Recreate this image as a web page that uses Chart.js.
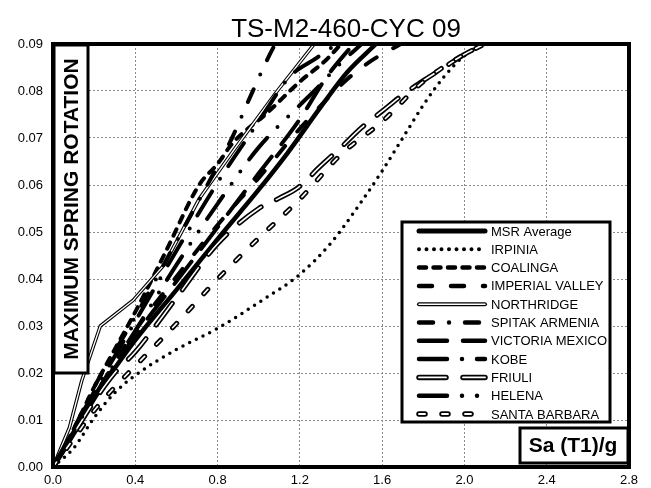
<!DOCTYPE html>
<html>
<head>
<meta charset="utf-8">
<script src="https://cdn.jsdelivr.net/npm/chart.js@4.4.0/dist/chart.umd.min.js"></script>
<style>
  body { margin: 0; background: #fff; }
  #wrap { width: 651px; height: 488px; position: relative; }
</style>
</head>
<body>
<div id="wrap"><canvas id="chart"></canvas></div>
<script>
// Sa(T1)/g and max spring rotation per record
const msrSa = [0, 0.1, 0.2, 0.3, 0.4, 0.6, 0.8, 1.0, 1.14, 1.3, 1.43, 1.57];
const msrRot = [0, 0.007, 0.0145, 0.021, 0.027, 0.0377, 0.0485, 0.059, 0.0668, 0.0765, 0.084, 0.09];

const irpiniaSa = [0, 0.1, 0.2, 0.3, 0.4, 0.6, 0.8, 1.0, 1.2, 1.35, 1.5, 1.6, 1.7, 1.8, 1.9, 2.0, 2.1];
const irpiniaRot = [0, 0.004, 0.0105, 0.0158, 0.0195, 0.025, 0.0295, 0.035, 0.041, 0.0476, 0.0565, 0.063, 0.07, 0.077, 0.083, 0.0875, 0.09];

const coalingaSa = [0, 0.1, 0.2, 0.3, 0.4, 0.55, 0.71, 0.8, 0.875, 1.04, 1.2, 1.33, 1.4];
const coalingaRot = [0, 0.008, 0.017, 0.025, 0.033, 0.046, 0.06, 0.0645, 0.069, 0.0753, 0.082, 0.0867, 0.09];

const imperialSa = [0, 0.1, 0.2, 0.4, 0.6, 0.8, 1.0, 1.2, 1.43, 1.55, 1.69];
const imperialRot = [0, 0.0075, 0.015, 0.029, 0.0405, 0.0515, 0.0615, 0.072, 0.0825, 0.0865, 0.09];

const northridgeSa = [0, 0.08, 0.14, 0.23, 0.39, 0.54, 0.71, 0.88, 1.09, 1.27];
const northridgeRot = [0, 0.0084, 0.0184, 0.03, 0.0355, 0.043, 0.057, 0.0675, 0.08, 0.09];

const spitakSa = [0, 0.1, 0.2, 0.4, 0.6, 0.75, 0.87, 0.957, 1.045, 1.08];
const spitakRot = [0, 0.008, 0.017, 0.032, 0.048, 0.06, 0.07, 0.0786, 0.087, 0.09];

const victoriaSa = [0, 0.1, 0.2, 0.4, 0.6, 0.8, 1.0, 1.2, 1.33, 1.46];
const victoriaRot = [0, 0.0072, 0.0145, 0.028, 0.0395, 0.051, 0.0625, 0.074, 0.083, 0.09];

const kobeSa = [0, 0.1, 0.2, 0.4, 0.6, 0.8, 1.0, 1.15, 1.28, 1.38];
const kobeRot = [0, 0.008, 0.016, 0.031, 0.046, 0.0605, 0.0735, 0.083, 0.087, 0.09];

const friuliSa = [0, 0.1, 0.2, 0.3, 0.4, 0.6, 0.8, 1.0, 1.1, 1.19, 1.3, 1.4, 1.5, 1.6, 1.7, 1.8, 1.9, 2.0, 2.1];
const friuliRot = [0, 0.007, 0.014, 0.02, 0.0245, 0.036, 0.0475, 0.055, 0.0572, 0.0594, 0.064, 0.068, 0.0722, 0.0757, 0.0792, 0.0822, 0.085, 0.0878, 0.09];

const helenaSa = [0, 0.1, 0.2, 0.4, 0.6, 0.8, 1.0, 1.2, 1.27, 1.4, 1.5];
const helenaRot = [0, 0.0075, 0.015, 0.029, 0.043, 0.056, 0.068, 0.077, 0.08, 0.086, 0.09];

const santaBarbaraSa = [0, 0.1, 0.2, 0.3, 0.4, 0.6, 0.8, 1.0, 1.2, 1.4, 1.6, 1.8, 2.0, 2.1];
const santaBarbaraRot = [0, 0.006, 0.012, 0.017, 0.0215, 0.0305, 0.04, 0.0487, 0.057, 0.0665, 0.0735, 0.082, 0.0878, 0.09];

const FONT = '"Liberation Sans", Arial, Helvetica, sans-serif';

// line look of each record: width, dash, and hollow (black with white core)
var series = [
    { label: 'MSR Average', sa: msrSa, rot: msrRot, width: 4.5, dash: [] },
    { label: 'IRPINIA', sa: irpiniaSa, rot: irpiniaRot, width: 3.5, dash: [0, 7.5] },
    { label: 'COALINGA', sa: coalingaSa, rot: coalingaRot, width: 4, dash: [7, 7.5] },
    { label: 'IMPERIAL VALLEY', sa: imperialSa, rot: imperialRot, width: 4, dash: [13, 19] },
    { label: 'NORTHRIDGE', sa: northridgeSa, rot: northridgeRot, width: 3.5, dash: [], inner: 1.3, straight: true },
    { label: 'SPITAK ARMENIA', sa: spitakSa, rot: spitakRot, width: 4, dash: [14, 16, 0, 16] },
    { label: 'VICTORIA MEXICO', sa: victoriaSa, rot: victoriaRot, width: 4, dash: [28, 16] },
    { label: 'KOBE', sa: kobeSa, rot: kobeRot, width: 4, dash: [28, 15, 0, 15] },
    { label: 'FRIULI', sa: friuliSa, rot: friuliRot, width: 5, dash: [27, 17], inner: 1.6 },
    { label: 'HELENA', sa: helenaSa, rot: helenaRot, width: 4, dash: [28, 15, 0, 15, 0, 15] },
    { label: 'SANTA BARBARA', sa: santaBarbaraSa, rot: santaBarbaraRot, width: 5, dash: [6, 17], inner: 1.6 }
];

var datasets = [];
series.forEach(function (s, i) {
    var pts = s.sa.map(function (x, j) { return { x: x, y: s.rot[j] }; });
    var base = {
        data: pts,
        borderDash: s.dash,
        borderCapStyle: 'round',
        borderJoinStyle: 'round',
        pointRadius: 0,
        fill: false
    };
    if (s.straight) {
        base.tension = 0;
    } else {
        base.cubicInterpolationMode = 'monotone';
    }
    datasets.push(Object.assign({}, base, { label: s.label, borderColor: '#000', borderWidth: s.width, order: 30 - i * 2 }));
    if (s.inner) {
        datasets.push(Object.assign({}, base, { label: s.label + ' core', borderColor: '#fff', borderWidth: s.inner, order: 29 - i * 2 }));
    }
});

function strokeSample(ctx, s, x1, x2, y) {
    ctx.lineCap = 'round';
    ctx.setLineDash(s.dash);
    ctx.strokeStyle = '#000';
    ctx.lineWidth = s.width + 0.5;
    ctx.beginPath(); ctx.moveTo(x1, y); ctx.lineTo(x2, y); ctx.stroke();
    if (s.inner) {
        ctx.strokeStyle = '#fff';
        ctx.lineWidth = s.inner + 0.3;
        ctx.beginPath(); ctx.moveTo(x1, y); ctx.lineTo(x2, y); ctx.stroke();
    }
}

function labelBox(ctx, x, y, w, h) {
    ctx.setLineDash([]);
    ctx.fillStyle = '#fff';
    ctx.fillRect(x, y, w, h);
    ctx.lineWidth = 3;
    ctx.strokeStyle = '#000';
    ctx.strokeRect(x, y, w, h);
}

const decorations = {
    id: 'decorations',
    afterDraw(chart) {
        var ctx = chart.ctx, a = chart.chartArea;
        ctx.save();

        // title
        ctx.fillStyle = '#000';
        ctx.font = '26px ' + FONT;
        ctx.textAlign = 'center';
        ctx.textBaseline = 'alphabetic';
        ctx.fillText('TS-M2-460-CYC 09', 346, 37);

        // plot frame
        ctx.setLineDash([]);
        ctx.lineWidth = 4;
        ctx.strokeStyle = '#000';
        ctx.strokeRect(a.left, a.top, a.right - a.left, a.bottom - a.top);

        // y title box
        labelBox(ctx, 54, 45, 34, 328);
        ctx.save();
        ctx.translate(71.5, 209);
        ctx.rotate(-Math.PI / 2);
        ctx.fillStyle = '#000';
        ctx.font = 'bold 21px ' + FONT;
        ctx.textAlign = 'center';
        ctx.textBaseline = 'middle';
        ctx.fillText('MAXIMUM SPRING ROTATION', 0, 1);
        ctx.restore();

        // x title box
        labelBox(ctx, 520, 428, 108, 35);
        ctx.fillStyle = '#000';
        ctx.font = 'bold 21px ' + FONT;
        ctx.textAlign = 'center';
        ctx.textBaseline = 'middle';
        ctx.fillText('Sa (T1)/g', 573, 446);

        // legend
        labelBox(ctx, 402, 222, 208, 200);
        ctx.font = '13px ' + FONT;
        ctx.textAlign = 'left';
        series.forEach(function (s, i) {
            var y = 231 + i * 18.3;
            strokeSample(ctx, s, 419, 485, y);
            ctx.setLineDash([]);
            ctx.fillStyle = '#000';
            ctx.fillText(s.label, 491, y + 1);
        });

        ctx.restore();
    }
};

var ctx = document.getElementById('chart').getContext('2d');
var myChart = new Chart(ctx, {
    type: 'line',
    data: { datasets: datasets },
    plugins: [decorations],
    options: {
        responsive: true,
        maintainAspectRatio: false,
        animation: false,
        layout: { padding: { left: 0, right: 22, top: 44, bottom: 0 } },
        plugins: {
            legend: { display: false },
            title: { display: false },
            tooltip: { enabled: false }
        },
        scales: {
            x: {
                type: 'linear',
                min: 0,
                max: 2.8,
                afterFit: function (s) { s.height = 21; },
                ticks: {
                    stepSize: 0.4,
                    padding: 6,
                    color: '#000',
                    font: { family: FONT, size: 13 },
                    callback: function (v) { return Number(v).toFixed(1); }
                },
                grid: { color: '#8a8a8a', lineWidth: 1, drawTicks: false },
                border: { display: false, dash: [2, 2] }
            },
            y: {
                type: 'linear',
                min: 0,
                max: 0.09,
                afterFit: function (s) { s.width = 53; },
                ticks: {
                    stepSize: 0.01,
                    padding: 10,
                    color: '#000',
                    font: { family: FONT, size: 13 },
                    callback: function (v) { return Number(v).toFixed(2); }
                },
                grid: { color: '#8a8a8a', lineWidth: 1, drawTicks: false },
                border: { display: false, dash: [2, 2] }
            }
        }
    }
});
</script>
</body>
</html>
